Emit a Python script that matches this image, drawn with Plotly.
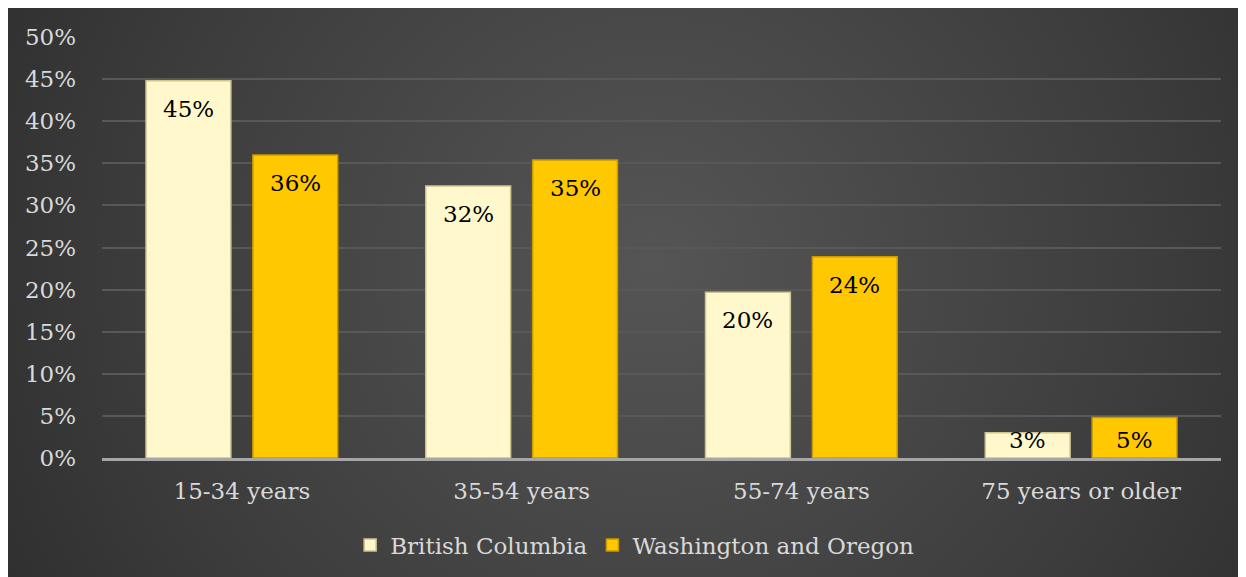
import base64
import plotly.graph_objects as go

categories = ["15-34 years", "35-54 years", "55-74 years", "75 years or older"]
bc_values = [44.8, 32.3, 19.7, 3.0]
wo_values = [36.0, 35.4, 23.9, 4.8]
bc_labels = ["45%", "32%", "20%", "3%"]
wo_labels = ["36%", "35%", "24%", "5%"]
y_ticks = [0, 5, 10, 15, 20, 25, 30, 35, 40, 45, 50]

FONT = "'DejaVu Serif', Georgia, serif"

W, H = 1238, 569
L, R, T, B = 94, 25, 29, 119
pw, ph = W - L - R, H - T - B
YMAX = 50

svg = '''<svg xmlns="http://www.w3.org/2000/svg" width="1240" height="572" viewBox="0 0 1240 572" preserveAspectRatio="none">
<defs><radialGradient id="g" cx="0.52" cy="0.45" r="0.75" gradientTransform="translate(0.52 0.45) scale(1 2.1) translate(-0.52 -0.45)">
<stop offset="0" stop-color="#555555"/><stop offset="0.55" stop-color="#3c3c3c"/><stop offset="1" stop-color="#242424"/>
</radialGradient></defs>
<rect width="1240" height="572" fill="url(#g)"/></svg>'''
src = "data:image/svg+xml;base64," + base64.b64encode(svg.encode()).decode()

fig = go.Figure()
fig.add_trace(go.Bar(
    x=categories, y=bc_values, name="British Columbia",
    marker=dict(color="#FFF8CC", line=dict(color="#cfc38f", width=1.5)),
    hoverinfo="x+y",
))
fig.add_trace(go.Bar(
    x=categories, y=wo_values, name="Washington and Oregon",
    marker=dict(color="#FFC800", line=dict(color="#c99a00", width=1.5)),
    hoverinfo="x+y",
))

BAR_OFFSET = 53.5  # half the slot distance between grouped bars, in px
for vals, labels, sign in ((bc_values, bc_labels, -1), (wo_values, wo_labels, 1)):
    for cat, v, lab in zip(categories, vals, labels):
        bar_px = v * ph / YMAX
        fig.add_annotation(
            x=cat, y=v, xref="x", yref="y", text=lab, showarrow=False,
            xshift=sign * BAR_OFFSET, yshift=-min(28, bar_px - 18),
            yanchor="middle", xanchor="center",
            font=dict(family=FONT, size=23, color="#000000"),
        )

fig.add_layout_image(dict(
    source=src, xref="paper", yref="paper",
    x=(0 - L) / pw, y=1 + T / ph,
    sizex=(W + 2) / pw, sizey=(H + 3) / ph,
    xanchor="left", yanchor="top", sizing="stretch", layer="below",
))

fig.update_layout(
    width=W, height=H,
    margin=dict(l=L, r=R, t=T, b=B, autoexpand=False),
    paper_bgcolor="#2b2b2b", plot_bgcolor="rgba(0,0,0,0)",
    barmode="group", bargap=0.236, bargroupgap=0.206,
    font=dict(family=FONT, color="#d9d9d9", size=23),
    showlegend=True,
    legend=dict(orientation="h", x=0.476, xanchor="center", y=-0.207, yanchor="middle",
                font=dict(size=23, color="#d9d9d9"), bgcolor="rgba(0,0,0,0)",
                itemwidth=30, traceorder="normal"),
)
fig.update_yaxes(
    range=[0, YMAX], tickvals=y_ticks, ticktext=[f"{v}%" for v in y_ticks],
    showgrid=True, gridcolor="#585858", gridwidth=2,
    zeroline=False, showline=False, ticks="", ticklabelstandoff=25,
    tickfont=dict(size=23, color="#d9d9d9"),
)
fig.update_xaxes(
    showline=True, linecolor="#a6a6a6", linewidth=2.5,
    ticks="", ticklabelstandoff=11,
    tickfont=dict(size=23, color="#d9d9d9"),
)

fig.write_html("out.html")
